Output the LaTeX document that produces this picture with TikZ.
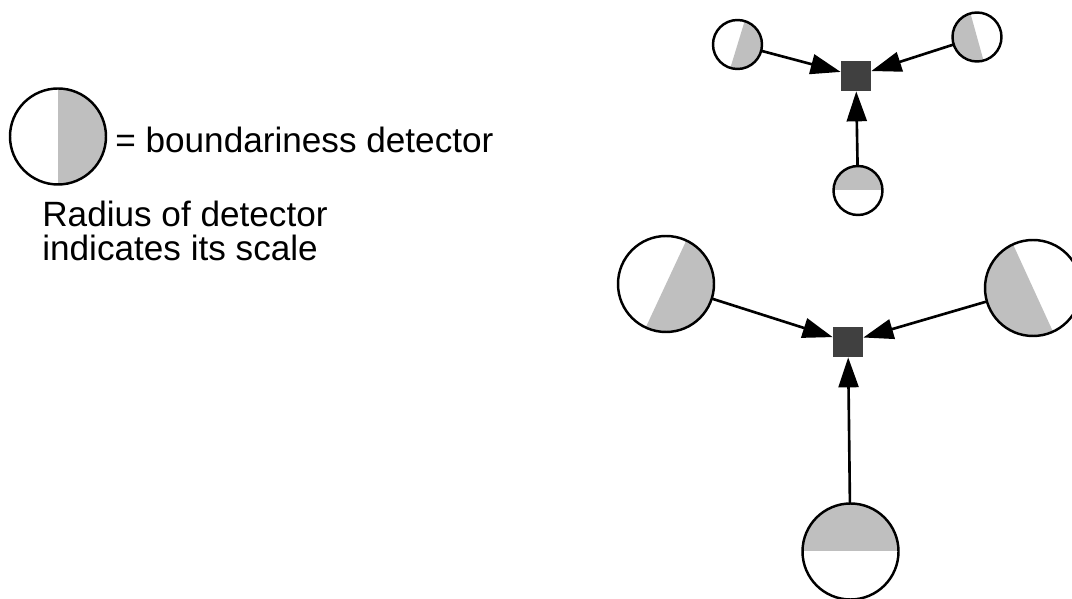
\documentclass[tikz,border=0pt]{standalone}
\usepackage{fontspec}
\setmainfont{Liberation Sans}
\usetikzlibrary{arrows.meta}
\definecolor{halfgray}{gray}{0.75}
\definecolor{hubgray}{gray}{0.25}

\begin{document}
\begin{tikzpicture}[>={Triangle[length=6mm,width=4mm]},line cap=round,
  detector/.style 2 args={circle,draw,line width=1.4pt,inner sep=0pt,minimum size=#1,
    path picture={\fill[halfgray] (path picture bounding box.center) ++(#2+90:2) -- ++(#2:2) -- ++(#2-90:4) -- ++(#2+180:2) -- cycle;}},
  hub/.style={fill=hubgray,minimum size=0.6cm,inner sep=0pt},
  link/.style={->,line width=1.5pt},
  label/.style={inner sep=0pt,font=\fontsize{20}{19}\selectfont}]
\useasboundingbox (0,0) rectangle (21.44,11.98);
% legend
\node[detector={1.92cm}{0}] (key) at (1.16,9.25) {};
\node[label,anchor=base west] (keytext) at (2.30,8.92) {= boundariness detector};
\node[label,anchor=north west,align=left] (note) at (0.84,7.96) {Radius of detector\\indicates its scale};
% small scale
\node[hub] (hubA) at (17.12,10.46) {};
\node[detector={0.98cm}{-17}] (sleft) at (14.75,11.09) {};
\node[detector={0.98cm}{195.5}] (sright) at (19.54,11.24) {};
\node[detector={0.98cm}{90}] (sdown) at (17.16,8.17) {};
\draw[link] (sleft) -- (hubA);
\draw[link] (sright) -- (hubA);
\draw[link] (sdown) -- (hubA);
% large scale
\node[hub] (hubB) at (16.96,5.14) {};
\node[detector={1.92cm}{-25}] (bleft) at (13.32,6.30) {};
\node[detector={1.92cm}{204.6}] (bright) at (20.66,6.22) {};
\node[detector={1.92cm}{90}] (bdown) at (17.01,0.95) {};
\draw[link] (bleft) -- (hubB);
\draw[link] (bright) -- (hubB);
\draw[link] (bdown) -- (hubB);
\end{tikzpicture}
\end{document}
